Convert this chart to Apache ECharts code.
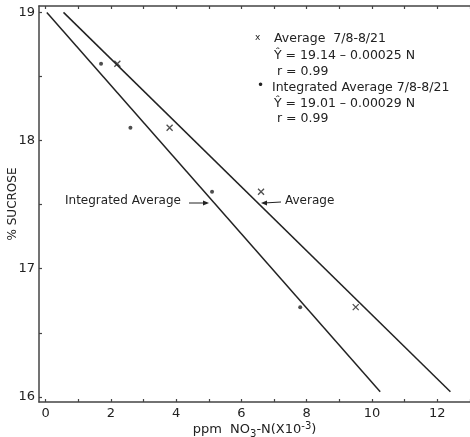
<!DOCTYPE html>
<html>
<head>
<meta charset="utf-8">
<script src="https://cdn.jsdelivr.net/npm/echarts@6/dist/echarts.min.js"></script>
<style>
  html, body { margin: 0; padding: 0; background: #fff; }
  #chart { width: 470px; height: 437px; }
</style>
</head>
<body>
<div id="chart"></div>
<script>
// observed points (x in ppm NO3-N x10^3, y in % sucrose)
const avgX = [2.2, 3.8, 6.6, 9.5];
const avgY = [18.6, 18.1, 17.6, 16.7];
const intX = [1.7, 2.6, 5.1, 7.8];
const intY = [18.6, 18.1, 17.6, 16.7];

// fitted regression lines, end points
const avgFitX = [0.55, 12.4];
const avgFitY = [19.0, 16.04];
const intFitX = [0.04, 10.25];
const intFitY = [19.0, 16.04];

const xTicks = [0, 1, 2, 3, 4, 5, 6, 7, 8, 9, 10, 11, 12, 13];
const xLabels = [0, 2, 4, 6, 8, 10, 12];
const yTicks = [16, 16.5, 17, 17.5, 18, 18.5, 19];
const yLabels = [16, 17, 18, 19];

const ink = '#222';
const font = 'DejaVu Sans';

const zip = (xs, ys) => xs.map((x, i) => [x, ys[i]]);

const chart = echarts.init(document.getElementById('chart'));

const axisCommon = {
  type: 'value',
  splitLine: { show: false },
  axisLine: { show: true, onZero: false, lineStyle: { color: '#444', width: 1.5 } },
  axisTick: { show: true, inside: true, length: 3, lineStyle: { color: '#444', width: 1.2 } },
};

chart.setOption({
  animation: false,
  backgroundColor: '#fff',
  textStyle: { fontFamily: font, color: ink },
  grid: { left: 39, top: 6, right: 0, bottom: 35, outerBoundsMode: 'none', containLabel: false },
  xAxis: [
    Object.assign({}, axisCommon, {
      min: -0.2, max: 13,
      axisTick: Object.assign({}, axisCommon.axisTick, { customValues: xTicks }),
      axisLabel: { customValues: xLabels, color: ink, fontSize: 13, margin: 5, fontFamily: font },
      name: 'ppm  NO{sub|3}-N(X10{sup|-3})',
      nameLocation: 'middle',
      nameGap: 19,
      nameMoveOverlap: false,
      nameTextStyle: {
        fontSize: 13, color: ink, fontFamily: font,
        rich: {
          sub: { fontSize: 10, padding: [8, 0, 0, 0], fontFamily: font, color: ink },
          sup: { fontSize: 10, padding: [0, 0, 8, 0], fontFamily: font, color: ink },
        },
      },
    }),
    Object.assign({}, axisCommon, {
      position: 'top',
      min: -0.2, max: 13,
      axisTick: Object.assign({}, axisCommon.axisTick, { customValues: xTicks }),
      axisLabel: { show: false },
    }),
  ],
  yAxis: Object.assign({}, axisCommon, {
    min: 15.96, max: 19.05,
    axisTick: Object.assign({}, axisCommon.axisTick, { customValues: yTicks }),
    axisLabel: { customValues: yLabels, color: ink, fontSize: 13, margin: 4, fontFamily: font },
    name: '% SUCROSE',
    nameLocation: 'middle',
    nameGap: 20,
    nameMoveOverlap: false,
    nameTextStyle: { fontSize: 12, color: ink, fontFamily: font },
  }),
  series: [
    {
      type: 'line', data: zip(avgFitX, avgFitY), symbol: 'none',
      lineStyle: { color: ink, width: 1.5 },
    },
    {
      type: 'line', data: zip(intFitX, intFitY), symbol: 'none',
      lineStyle: { color: ink, width: 1.5 },
    },
    {
      type: 'scatter', data: zip(avgX, avgY),
      symbol: 'path://M0,0L10,10M10,0L0,10', symbolSize: 6,
      itemStyle: { color: 'none', borderColor: ink, borderWidth: 1.3 },
    },
    {
      type: 'scatter', data: zip(intX, intY),
      symbol: 'circle', symbolSize: 4,
      itemStyle: { color: ink },
    },
  ],
  graphic: [
    // legend block
    { type: 'text', left: 255, top: 33, style: { text: 'x', font: '9px ' + font, fill: ink } },
    { type: 'text', left: 274, top: 32, style: { text: 'Average  7/8-8/21', font: '12.5px ' + font, fill: ink } },
    { type: 'text', left: 274, top: 49, style: { text: 'Ŷ = 19.14 – 0.00025 N', font: '12.5px ' + font, fill: ink } },
    { type: 'text', left: 277, top: 65, style: { text: 'r = 0.99', font: '12.5px ' + font, fill: ink } },
    { type: 'text', left: 257, top: 80, style: { text: '•', font: '12px ' + font, fill: ink } },
    { type: 'text', left: 272, top: 81, style: { text: 'Integrated Average 7/8-8/21', font: '12.5px ' + font, fill: ink } },
    { type: 'text', left: 274, top: 97, style: { text: 'Ŷ = 19.01 – 0.00029 N', font: '12.5px ' + font, fill: ink } },
    { type: 'text', left: 277, top: 112, style: { text: 'r = 0.99', font: '12.5px ' + font, fill: ink } },
    // line annotations
    { type: 'text', left: 65, top: 195, style: { text: 'Integrated Average', font: '12px ' + font, fill: ink } },
    { type: 'line', shape: { x1: 189, y1: 203, x2: 207, y2: 203 }, style: { stroke: ink, lineWidth: 1 } },
    { type: 'polygon', shape: { points: [[209, 203], [203, 200.5], [203, 205.5]] }, style: { fill: ink } },
    { type: 'text', left: 285, top: 195, style: { text: 'Average', font: '12px ' + font, fill: ink } },
    { type: 'line', shape: { x1: 281, y1: 202, x2: 264, y2: 203 }, style: { stroke: ink, lineWidth: 1 } },
    { type: 'polygon', shape: { points: [[261, 203], [267, 200.5], [267, 205.5]] }, style: { fill: ink } },
  ],
});
</script>
</body>
</html>
